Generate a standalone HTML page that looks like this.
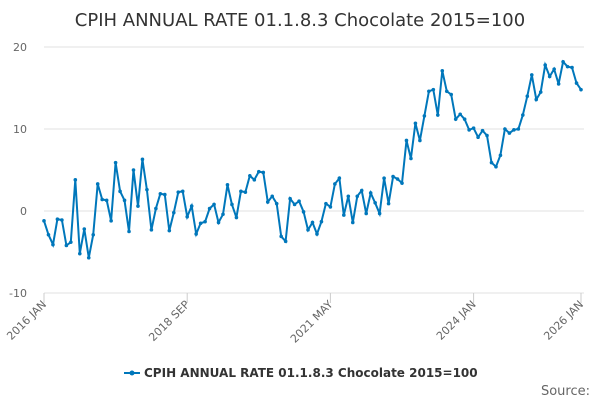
<!DOCTYPE html>
<html><head><meta charset="utf-8"><style>
body{margin:0;width:600px;height:400px;overflow:hidden;background:#fff;font-family:"DejaVu Sans","Liberation Sans",sans-serif}
</style></head><body>
<svg width="600" height="400" font-family="DejaVu Sans, Liberation Sans, sans-serif">
<text x="300" y="26" text-anchor="middle" font-size="18" fill="#333">CPIH ANNUAL RATE 01.1.8.3 Chocolate 2015=100</text>
<g id="grid"></g><g id="xt"></g>
<path id="line" fill="none" stroke="#0077bb" stroke-width="2"/>
<g id="pts"></g>
<g>
<line x1="124" y1="373" x2="140" y2="373" stroke="#0077bb" stroke-width="2"/>
<circle cx="132" cy="373" r="2.5" fill="#0077bb"/>
<text x="144" y="377" font-size="12" font-weight="bold" fill="#333">CPIH ANNUAL RATE 01.1.8.3 Chocolate 2015=100</text>
</g>
<text x="590" y="395" text-anchor="end" font-size="13" fill="#666">Source:</text>
</svg>
<script>
const yTicks=[20,10,0,-10];
const xLabels=["2016 JAN","2018 SEP","2021 MAY","2024 JAN","2026 JAN"];
const xLabelIdx=[0,32,64,96,120];
const values=[-1.2,-2.9,-4.1,-1.0,-1.1,-4.2,-3.8,3.8,-5.2,-2.2,-5.7,-2.9,3.3,1.4,1.3,-1.2,5.9,2.4,1.3,-2.5,5.0,0.6,6.3,2.6,-2.3,0.3,2.1,2.0,-2.4,-0.2,2.3,2.4,-0.7,0.6,-2.8,-1.5,-1.3,0.3,0.8,-1.4,-0.4,3.2,0.8,-0.8,2.4,2.3,4.3,3.8,4.8,4.7,1.1,1.8,0.9,-3.1,-3.7,1.5,0.8,1.2,-0.1,-2.3,-1.4,-2.8,-1.3,0.9,0.5,3.3,4.0,-0.5,1.8,-1.4,1.8,2.5,-0.3,2.2,1.0,-0.3,4.0,0.9,4.2,3.9,3.4,8.6,6.4,10.7,8.6,11.6,14.6,14.8,11.7,17.1,14.6,14.2,11.2,11.8,11.2,9.9,10.1,9.0,9.8,9.2,5.9,5.4,6.8,10.0,9.5,9.9,10.0,11.7,14.0,16.6,13.6,14.5,17.8,16.4,17.3,15.5,18.2,17.6,17.5,15.6,14.8];
const X0=44,X1=581,NS="http://www.w3.org/2000/svg";
const xs=i=>X0+(X1-X0)*i/(values.length-1);
const ys=v=>211-8.2*v;
const g=document.getElementById('grid');
yTicks.forEach(t=>{
 const l=document.createElementNS(NS,'line');
 l.setAttribute('x1',44);l.setAttribute('x2',584);l.setAttribute('y1',ys(t));l.setAttribute('y2',ys(t));
 l.setAttribute('stroke','#e0e0e0');
 
 
 g.appendChild(l);
 const tx=document.createElementNS(NS,'text');
 tx.setAttribute('x',27);tx.setAttribute('y',ys(t)+4);tx.setAttribute('text-anchor','end');
 tx.setAttribute('font-size','11');tx.setAttribute('fill','#666');tx.textContent=t;
 
 
 g.appendChild(tx);
});
const xt=document.getElementById('xt');
xLabels.forEach((s,k)=>{
 const x=xs(xLabelIdx[k]);
 const l=document.createElementNS(NS,'line');
 l.setAttribute('x1',x);l.setAttribute('x2',x);l.setAttribute('y1',293);l.setAttribute('y2',303);
 l.setAttribute('stroke','#ccc');
 
 
 xt.appendChild(l);
 const tx=document.createElementNS(NS,'text');
 tx.setAttribute('x',x+3);tx.setAttribute('y',305);tx.setAttribute('text-anchor','end');
 tx.setAttribute('font-size','11');tx.setAttribute('fill','#666');
 tx.setAttribute('transform','rotate(-45 '+(x+3)+' 305)');tx.textContent=s;
 
 
 xt.appendChild(tx);
});
document.getElementById('line').setAttribute('d',values.map((v,i)=>(i?'L':'M')+xs(i).toFixed(1)+','+ys(v).toFixed(1)).join(''));
const p=document.getElementById('pts');
values.forEach((v,i)=>{
 const c=document.createElementNS(NS,'circle');
 c.setAttribute('cx',xs(i));c.setAttribute('cy',ys(v));c.setAttribute('r',1.8);c.setAttribute('fill','#0077bb');
 
 
 p.appendChild(c);
});
</script>
</body></html>
